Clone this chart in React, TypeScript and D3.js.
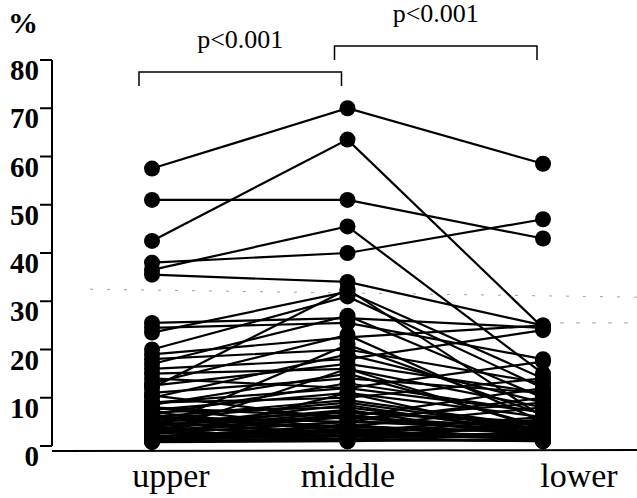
import React from "react";
import * as d3 from "d3";

// positions along the x axis
const categories = ["upper", "middle", "lower"];

// one row per subject: % at upper, middle, lower
const upperVals = [57.5, 42.5, 51, 36.5, 38, 35.5, 23.5, 12, 25.5, 24.5, 20, 19, 17, 16, 18, 15, 14, 13, 11, 10,
  9, 8.5, 8, 7.5, 7, 6.5, 6, 5.5, 5, 4.5, 4, 3.5, 3, 2.5, 2, 1.5, 1, 1.5, 2, 3,
  4, 5, 6, 7, 9, 10.5, 12.5, 2.5, 1, 3.5, 1, 2, 3, 4.5, 5.5, 6.5, 8, 1.5, 2.5, 3.5,
  1, 2, 4, 0.8, 1.2, 2.8];
const middleVals = [70, 63.5, 51, 45.5, 40, 34, 32, 32.5, 26.5, 25.5, 31, 22.5, 27, 18, 20, 16, 12, 23, 14, 19,
  10, 15, 6, 11, 8, 13, 5, 9, 7, 4, 8.5, 3, 6.5, 5, 3.5, 2, 2.5, 4.5, 1.5, 1,
  7.5, 2.5, 9.5, 3, 12, 5.5, 17, 16, 11, 21, 1.5, 3, 2, 6, 4, 1, 3.5, 2.5, 5, 7,
  1.2, 4, 2, 1, 3, 6];
const lowerVals = [58.5, 24.5, 43, 15, 47, 25, 14, 6, 24.5, 18, 12, 25, 10, 24, 13, 8, 17.5, 5, 11, 9,
  14, 4, 12, 6, 3, 7, 10, 3.5, 5, 8, 2.5, 6, 2, 4.5, 3, 2, 1.5, 1, 3, 2.5,
  1.5, 5.5, 4, 2, 7, 9, 11, 3.5, 2, 6.5, 1, 1.5, 4, 2.5, 3, 5, 1.2, 2, 3.5, 4.5,
  1, 2.8, 1.8, 1.5, 2.2, 3.8];

const yTicks = [0, 10, 20, 30, 40, 50, 60, 70, 80];

// significance brackets: [from, to, label, level in % units]
const brackets: [string, string, string, number][] = [
  ["upper", "middle", "p<0.001", 77.5],
  ["middle", "lower", "p<0.001", 82.9],
];

// faint dotted reference marks seen on the scan
const refLevels = [32.5, 25.5];

const W = 637;
const H = 498;
const serif = "'Liberation Serif', 'Times New Roman', serif";

export default function App() {
  const x = d3.scalePoint<string>().domain(categories).range([152, 543]);
  const y = d3.scaleLinear().domain([0, 80]).range([446, 60]);

  const rows = upperVals.map((u, i) => [u, middleVals[i], lowerVals[i]]);
  const line = d3
    .line<number>()
    .x((_, i) => x(categories[i])!)
    .y((d) => y(d));

  const axisX = 52;
  const labelPos: Record<string, number> = { upper: 171, middle: 348, lower: 579 };

  return (
    <svg width={W} height={H} style={{ position: "absolute", left: 0, top: 0, background: "#fff" }}>
      <rect width={W} height={H} fill="#fff" />

      {/* reference dotted lines */}
      <line x1={90} x2={W} y1={y(refLevels[0])} y2={y(refLevels[0]) + 8} stroke="#444" strokeWidth={1}
        strokeDasharray="3 14" opacity={0.5} />
      <line x1={560} x2={W} y1={y(refLevels[1])} y2={y(refLevels[1])} stroke="#444" strokeWidth={1}
        strokeDasharray="4 12" opacity={0.5} />

      {/* y axis */}
      <line x1={axisX} x2={axisX} y1={y(80)} y2={y(0)} stroke="#000" strokeWidth={2} />
      {yTicks.map((t) => (
        <g key={t}>
          <line x1={axisX - 12} x2={axisX} y1={y(t)} y2={y(t)} stroke="#000" strokeWidth={2} />
          <text x={axisX - 13} y={y(t) + 20} textAnchor="end" fontFamily={serif} fontSize={29}
            fontWeight="bold">
            {t}
          </text>
        </g>
      ))}
      <text x={8} y={33} fontFamily={serif} fontSize={30} fontWeight="bold">%</text>

      {/* x axis */}
      <line x1={axisX} x2={W} y1={451} y2={450} stroke="#000" strokeWidth={2} />
      {categories.map((c) => (
        <text key={c} x={labelPos[c]} y={487} textAnchor="middle" fontFamily={serif} fontSize={34}>
          {c}
        </text>
      ))}

      {/* brackets */}
      {brackets.map(([a, b, lab, lev], i) => {
        const by = y(lev);
        const x1 = x(a)! - 13;
        const x2 = x(b)! - 6;
        return (
          <g key={i}>
            <path d={`M${x1},${by + 14}V${by}H${x2}V${by + 14}`} fill="none" stroke="#000" strokeWidth={1.5} />
            <text x={(x1 + x2) / 2} y={by - 24} textAnchor="middle" fontFamily={serif} fontSize={26}>
              {lab}
            </text>
          </g>
        );
      })}

      {/* subject lines */}
      {rows.map((r, i) => (
        <path key={i} d={line(r)!} fill="none" stroke="#000" strokeWidth={2.2} />
      ))}
      {rows.map((r, i) =>
        r.map((v, j) => <circle key={`${i}-${j}`} cx={x(categories[j])} cy={y(v)} r={8} fill="#000" />)
      )}
    </svg>
  );
}
